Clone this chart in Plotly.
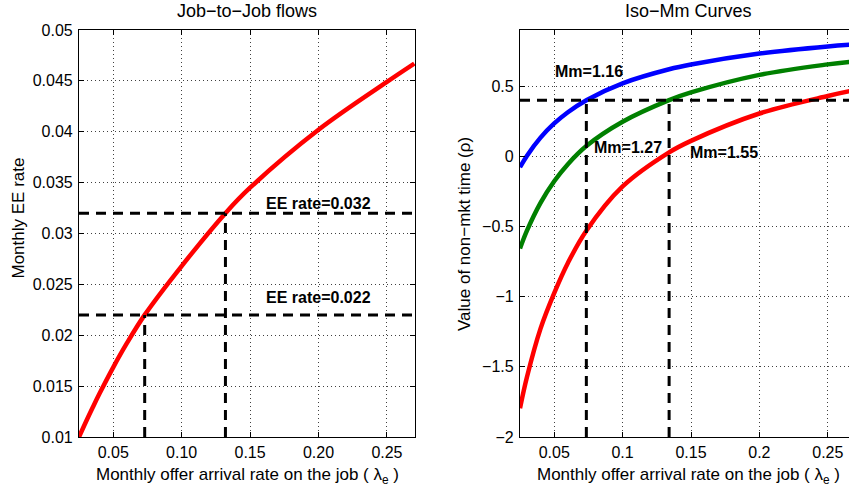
import plotly.graph_objects as go

# ---------------- data ----------------
# Left panel: job-to-job flows
lam_ee = [0.025, 0.03, 0.035, 0.04, 0.05, 0.06, 0.073, 0.10, 0.132, 0.15, 0.20, 0.25, 0.27]
ee_rate = [0.0100, 0.01148, 0.0129, 0.01427, 0.01685, 0.01922, 0.0220, 0.0268, 0.0320, 0.0345, 0.0402, 0.0449, 0.0467]
ee_targets = [0.032, 0.022]
ee_target_lam = [0.132, 0.073]
ee_labels = ["EE rate=0.032", "EE rate=0.022"]
ee_label_pos = [(0.20, 0.0329), (0.20, 0.0237)]

# Right panel: Iso-Mm curves
lam_mm = [0.025, 0.03, 0.04, 0.05, 0.06, 0.0735, 0.10, 0.134, 0.15, 0.20, 0.25, 0.27]
rho_116 = [-0.078, 0.003, 0.133, 0.234, 0.314, 0.40, 0.52, 0.62, 0.654, 0.732, 0.783, 0.798]
rho_127 = [-0.657, -0.532, -0.332, -0.178, -0.056, 0.073, 0.246, 0.40, 0.455, 0.58, 0.655, 0.677]
rho_155 = [-1.795, -1.576, -1.228, -0.975, -0.76, -0.53, -0.215, 0.028, 0.11, 0.305, 0.43, 0.472]
rho_target = 0.4
rho_target_lam = [0.0735, 0.134]
mm_labels = ["Mm=1.16", "Mm=1.27", "Mm=1.55"]
mm_label_pos = [(0.0752, 0.604), (0.1037, 0.061), (0.174, 0.03)]

# axes / ticks
x1_range = [0.025, 0.2705]
y1_range = [0.01, 0.05]
x2_range = [0.025, 0.2655]
y2_range = [-2.0, 0.9]
x1_ticks = [0.05, 0.10, 0.15, 0.20, 0.25]
x1_ticktext = ["0.05", "0.10", "0.15", "0.20", "0.25"]
y1_ticks = [0.01, 0.015, 0.02, 0.025, 0.03, 0.035, 0.04, 0.045, 0.05]
y1_ticktext = ["0.01", "0.015", "0.02", "0.025", "0.03", "0.035", "0.04", "0.045", "0.05"]
x2_ticks = [0.05, 0.1, 0.15, 0.2, 0.25]
x2_ticktext = ["0.05", "0.1", "0.15", "0.2", "0.25"]
y2_ticks = [-2, -1.5, -1, -0.5, 0, 0.5]
y2_ticktext = ["\u22122", "\u22121.5", "\u22121", "\u22120.5", "0", "0.5"]

titles = ["Job\u2212to\u2212Job flows", "Iso\u2212Mm Curves"]
xlabel = "Monthly offer arrival rate on the job ( \u03bb<sub>e</sub> )"
ylabels = ["Monthly EE rate", "Value of non\u2212mkt time (\u03c1)"]

# ---------------- figure ----------------
W, H = 849, 488
TOP, BOT = 30, 437
FONT = "Liberation Sans, Arial, Helvetica, sans-serif"
DASH = "10px,7px"

def px(x):
    return x / W

def py(y):
    return (BOT - y) / (BOT - TOP)

fig = go.Figure()

# left curve
fig.add_trace(go.Scatter(x=lam_ee, y=ee_rate, mode="lines", xaxis="x", yaxis="y",
                         line=dict(color="#ff0000", width=4.5, shape="spline", smoothing=1.0),
                         showlegend=False))
for t, l in zip(ee_targets, ee_target_lam):
    fig.add_trace(go.Scatter(x=[x1_range[0], x1_range[1]], y=[t, t], mode="lines", xaxis="x", yaxis="y",
                             line=dict(color="black", width=3, dash=DASH), showlegend=False))
    fig.add_trace(go.Scatter(x=[l, l], y=[y1_range[0], t], mode="lines", xaxis="x", yaxis="y",
                             line=dict(color="black", width=3, dash=DASH), showlegend=False))

# right curves
for ys, col in zip([rho_116, rho_127, rho_155], ["#0000ff", "#008000", "#ff0000"]):
    fig.add_trace(go.Scatter(x=lam_mm, y=ys, mode="lines", xaxis="x2", yaxis="y2",
                             line=dict(color=col, width=4.5, shape="spline", smoothing=1.0),
                             showlegend=False))
fig.add_trace(go.Scatter(x=[x2_range[0], 0.27], y=[rho_target, rho_target], mode="lines", xaxis="x2", yaxis="y2",
                         line=dict(color="black", width=3, dash=DASH), showlegend=False))
for l in rho_target_lam:
    fig.add_trace(go.Scatter(x=[l, l], y=[y2_range[0], rho_target], mode="lines", xaxis="x2", yaxis="y2",
                             line=dict(color="black", width=3, dash=DASH), showlegend=False))

axis_common = dict(showline=True, linecolor="black", linewidth=1.2, ticks="inside", ticklen=5,
                   tickcolor="black", tickwidth=1, showgrid=True, gridcolor="rgba(0,0,0,0.75)",
                   gridwidth=1, griddash="1px,3px", zeroline=False, ticklabeloverflow="allow",
                   tickfont=dict(family=FONT, size=16, color="black"))

fig.update_layout(
    width=W, height=H,
    margin=dict(l=0, r=0, t=TOP, b=H - BOT, pad=0),
    plot_bgcolor="white", paper_bgcolor="white",
    xaxis=dict(domain=[px(79), px(415)], range=x1_range, tickvals=x1_ticks, ticktext=x1_ticktext,
               mirror="ticks", anchor="y", ticklabelstandoff=1, **axis_common),
    yaxis=dict(domain=[0, 1], range=y1_range, tickvals=y1_ticks, ticktext=y1_ticktext,
               mirror="ticks", anchor="x", ticklabelstandoff=2, **axis_common),
    xaxis2=dict(domain=[px(520), 1.0], range=x2_range, tickvals=x2_ticks, ticktext=x2_ticktext,
                mirror="ticks", anchor="y2", ticklabelstandoff=1, **axis_common),
    yaxis2=dict(domain=[0, 1], range=y2_range, tickvals=y2_ticks, ticktext=y2_ticktext,
                mirror=False, anchor="x2", ticklabelstandoff=2, **axis_common),
)

ann = []
for txt, (ax, ay) in zip(ee_labels, ee_label_pos):
    ann.append(dict(text="<b>%s</b>" % txt, x=ax, y=ay, xref="x", yref="y", showarrow=False,
                    xanchor="center", yanchor="middle", font=dict(family=FONT, size=16, color="black")))
for txt, (ax, ay) in zip(mm_labels, mm_label_pos):
    ann.append(dict(text="<b>%s</b>" % txt, x=ax, y=ay, xref="x2", yref="y2", showarrow=False,
                    xanchor="center", yanchor="middle", font=dict(family=FONT, size=16, color="black")))
# titles
for txt, cx in zip(titles, [247, 688]):
    ann.append(dict(text=txt, x=px(cx), y=py(11), xref="paper", yref="paper", showarrow=False,
                    xanchor="center", yanchor="middle", font=dict(family=FONT, size=18, color="black")))
# x labels
for cx in [247.5, 688]:
    ann.append(dict(text=xlabel, x=px(cx), y=py(476), xref="paper", yref="paper", showarrow=False,
                    xanchor="center", yanchor="middle", font=dict(family=FONT, size=17, color="black")))
# y labels
for txt, cx, cy in zip(ylabels, [17.5, 465], [218, 234]):
    ann.append(dict(text=txt, x=px(cx), y=py(cy), xref="paper", yref="paper", showarrow=False,
                    textangle=-90, xanchor="center", yanchor="middle",
                    font=dict(family=FONT, size=17, color="black")))
fig.update_layout(annotations=ann)

fig.write_html("out.html", config={"displayModeBar": False},
               post_script="document.body.style.margin='0';document.body.style.overflow='hidden';")
